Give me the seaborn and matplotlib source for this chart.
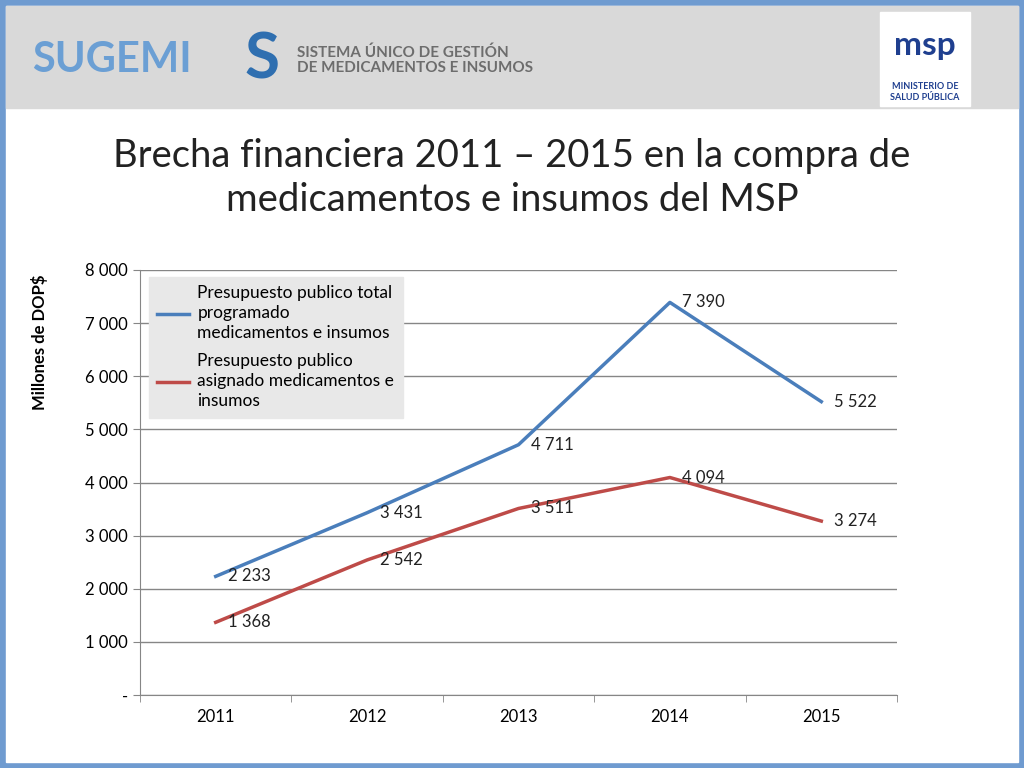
import numpy as np
import pandas as pd
import matplotlib
matplotlib.use("Agg")
import matplotlib.pyplot as plt
import seaborn as sns
from matplotlib.patches import Rectangle
from matplotlib.ticker import FuncFormatter

# ── data ──
years = ["2011", "2012", "2013", "2014", "2015"]
programado = [2233, 3431, 4711, 7390, 5522]
asignado = [1368, 2542, 3511, 4094, 3274]
series_names = ["Presupuesto publico total\nprogramado\nmedicamentos e insumos",
                "Presupuesto publico\nasignado medicamentos e\ninsumos"]
colors = ["#4a7ebb", "#be4b48"]

FONT = "Lato"
plt.rcParams["font.family"] = FONT

df = pd.DataFrame({
    "year": years * 2,
    "value": programado + asignado,
    "serie": [series_names[0]] * 5 + [series_names[1]] * 5,
})

fig = plt.figure(figsize=(10.24, 7.68), dpi=100)
fig.patch.set_facecolor("#6f9bd0")

# slide background + header band
fig.add_artist(Rectangle((6 / 1024, 6 / 768), 1012 / 1024, 756 / 768,
                         transform=fig.transFigure, color="white", zorder=0))
fig.add_artist(Rectangle((6 / 1024, 1 - 108 / 768), 1012 / 1024, 102 / 768,
                         transform=fig.transFigure, color="#d9d9d9", zorder=0))
fig.text(32 / 1024, 1 - 60 / 768, "SUGEMI", fontsize=30, color="#6b9fd4",
         fontweight="bold", va="center")
fig.text(245 / 1024, 1 - 60 / 768, "S", fontsize=46, color="#2f6fb0",
         fontweight="bold", va="center")
fig.text(297 / 1024, 1 - 60 / 768, "SISTEMA ÚNICO DE GESTIÓN\nDE MEDICAMENTOS E INSUMOS",
         fontsize=11, color="#6d6d6d", fontweight="bold", va="center", linespacing=1.1)
fig.add_artist(Rectangle((880 / 1024, 1 - 106 / 768), 90 / 1024, 94 / 768,
                         transform=fig.transFigure, color="white", zorder=1))
fig.text(925 / 1024, 1 - 45 / 768, "msp", fontsize=24, color="#1f3f8f",
         fontweight="bold", ha="center", va="center")
fig.text(925 / 1024, 1 - 92 / 768, "MINISTERIO DE\nSALUD PÚBLICA", fontsize=6.5,
         color="#1f3f8f", fontweight="bold", ha="center", va="center")

fig.text(0.5, 1 - 178 / 768,
         "Brecha financiera 2011 – 2015 en la compra de\nmedicamentos e insumos del MSP",
         fontsize=27.5, ha="center", va="center", color="#222222", linespacing=1.25)

ax = fig.add_axes([140 / 1024, 1 - 695 / 768, 757 / 1024, 425 / 768])
sns.lineplot(data=df, x="year", y="value", hue="serie", palette=colors,
             linewidth=2.5, ax=ax, sort=False)

for vals in (programado, asignado):
    for i, v in enumerate(vals):
        ax.annotate(f"{v:,}".replace(",", " "), (i, v), xytext=(9, 0),
                    textcoords="offset points", va="center", fontsize=12,
                    color="#222222")

ax.set_xlim(-0.5, 4.5)
ax.set_ylim(0, 8000)
ax.set_yticks(range(0, 8001, 1000))
ax.yaxis.set_major_formatter(FuncFormatter(
    lambda v, p: "-" if v == 0 else f"{int(v):,}".replace(",", " ")))
ax.set_xticks(range(5))
ax.set_xticks(np.arange(-0.5, 5, 1), minor=True)
ax.tick_params(axis="x", which="major", length=0, pad=10, labelsize=12)
ax.tick_params(axis="x", which="minor", length=5, color="#868686")
ax.tick_params(axis="y", length=5, color="#868686", labelsize=12)
ax.grid(axis="y", color="#868686", linewidth=1)
ax.set_axisbelow(True)
for s in ["top", "right"]:
    ax.spines[s].set_visible(False)
for s in ["left", "bottom"]:
    ax.spines[s].set_color("#868686")
ax.set_xlabel("")
ax.set_ylabel("Millones de DOP$", fontsize=12, fontweight="bold", loc="top")
ax.yaxis.set_label_coords(-0.122, 0.99)

leg = ax.legend(loc="upper left", bbox_to_anchor=(0.0, 1.005), fontsize=12.5,
                frameon=True, fancybox=False, facecolor="#e8e8e8",
                edgecolor="#e8e8e8", framealpha=1, handlelength=1.8,
                labelspacing=0.7, borderpad=0.5, handletextpad=0.5)
for t in leg.get_texts():
    t.set_linespacing(1.3)

fig.savefig("out.png", dpi=100, facecolor=fig.get_facecolor())
